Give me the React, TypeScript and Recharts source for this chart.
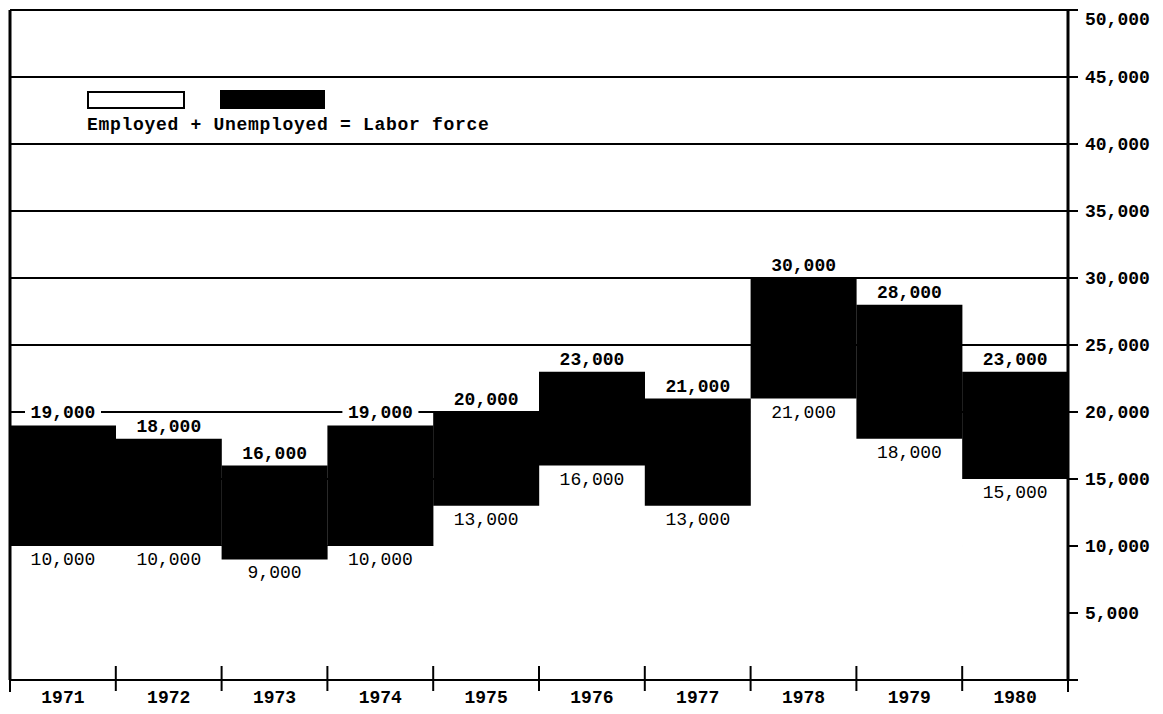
import { BarChart, Bar, XAxis, YAxis, CartesianGrid, LabelList } from 'recharts'

const years = ['1971', '1972', '1973', '1974', '1975', '1976', '1977', '1978', '1979', '1980']
const employed = [10000, 10000, 9000, 10000, 13000, 16000, 13000, 21000, 18000, 15000]
const laborForce = [19000, 18000, 16000, 19000, 20000, 23000, 21000, 30000, 28000, 23000]
const yTicks = [0, 5000, 10000, 15000, 20000, 25000, 30000, 35000, 40000, 45000, 50000]

const data = years.map((year, i) => ({
  year,
  employed: employed[i],
  unemployed: laborForce[i] - employed[i],
  total: laborForce[i],
}))

const W = 1155
const H = 706
const Y_W = 95
const LEFT_W = 2
const MARGIN = { top: 2, right: 0, bottom: 0, left: 0 }
const BAND = (W - LEFT_W - Y_W) / years.length
const FONT = '"Liberation Mono", "Courier New", monospace'
const fmt = (v: number) => v.toLocaleString('en-US')

function YearTick(props: any) {
  const { x, y, payload, index } = props
  const left = x - BAND / 2
  const last = index === years.length - 1
  return (
    <g>
      {index === 0 ? (
        <line x1={left} x2={left} y1={y - 2} y2={y + 12} stroke="#000" strokeWidth={2} />
      ) : (
        <line x1={left} x2={left} y1={y - 14} y2={y + 11} stroke="#000" strokeWidth={2} />
      )}
      {last && <line x1={x + BAND / 2} x2={x + BAND / 2} y1={y - 2} y2={y + 12} stroke="#000" strokeWidth={2} />}
      <text x={x} y={y + 23} textAnchor="middle" fontFamily={FONT} fontWeight="bold" fontSize={18} fill="#000">
        {payload.value}
      </text>
    </g>
  )
}

function TotalLabel(props: any) {
  const { x, y, width, value } = props
  const cx = x + width / 2
  const cy = y - 13
  return (
    <g>
      <rect x={cx - 38} y={cy - 10} width={76} height={20} fill="#fff" />
      <text x={cx} y={cy} dy={6} textAnchor="middle" fontFamily={FONT} fontWeight="bold" fontSize={18} fill="#000">
        {fmt(value)}
      </text>
    </g>
  )
}

function EmployedLabel(props: any) {
  const { x, y, width, value } = props
  return (
    <text x={x + width / 2} y={y + 13} dy={6} textAnchor="middle" fontFamily={FONT} fontSize={18} fill="#000">
      {fmt(value)}
    </text>
  )
}

function LegendBox() {
  return (
    <div style={{ position: 'absolute', left: 79, top: 82, fontFamily: FONT, color: '#000' }}>
      <div style={{ display: 'flex', alignItems: 'center' }}>
        <div style={{ width: 94, height: 14, border: '2px solid #000', background: '#fff' }} />
        <div style={{ width: 105, height: 19, marginLeft: 35, background: '#000' }} />
      </div>
      <div style={{ fontSize: 18, fontWeight: 'bold', marginTop: 6, letterSpacing: 0.7, whiteSpace: 'nowrap' }}>
        Employed + Unemployed = Labor force
      </div>
    </div>
  )
}

export default function App() {
  return (
    <div style={{ position: 'relative', width: W, height: H }}>
      <BarChart width={W} height={H} data={data} margin={MARGIN} barCategoryGap={0}>
        <CartesianGrid yAxisId="right" vertical={false} stroke="#000" strokeWidth={2} horizontalValues={yTicks} />
        <XAxis
          dataKey="year"
          height={H - MARGIN.top - 670}
          axisLine={{ stroke: '#000', strokeWidth: 2 }}
          tickLine={false}
          tickSize={0}
          tickMargin={0}
          tick={<YearTick />}
          interval={0}
        />
        <YAxis
          yAxisId="left"
          orientation="left"
          width={LEFT_W}
          domain={[0, 50000]}
          tick={false}
          tickLine={false}
          axisLine={{ stroke: '#000', strokeWidth: 3 }}
        />
        <YAxis
          yAxisId="right"
          orientation="right"
          width={Y_W}
          domain={[0, 50000]}
          ticks={yTicks}
          tickFormatter={(v: number) => (v === 0 ? '' : fmt(v))}
          axisLine={{ stroke: '#000', strokeWidth: 3 }}
          tickLine={{ stroke: '#000', strokeWidth: 2 }}
          tickSize={10}
          tickMargin={7}
          tick={{ fontFamily: FONT, fontWeight: 'bold', fontSize: 18, fill: '#000' }}
        />
        <Bar yAxisId="right" dataKey="employed" stackId="a" fill="#fff" stroke="#fff" strokeWidth={1} isAnimationActive={false}>
          <LabelList dataKey="employed" content={<EmployedLabel />} />
        </Bar>
        <Bar yAxisId="right" dataKey="unemployed" stackId="a" fill="#000" isAnimationActive={false}>
          <LabelList dataKey="total" content={<TotalLabel />} />
        </Bar>
      </BarChart>
      <LegendBox />
    </div>
  )
}
